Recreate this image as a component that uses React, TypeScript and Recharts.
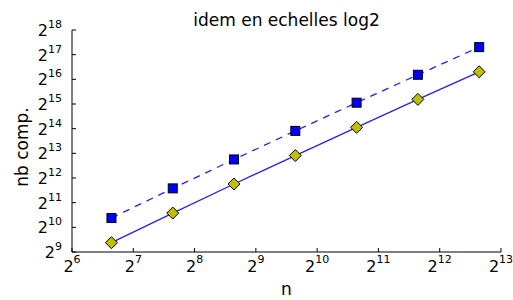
import { ComposedChart, Line, XAxis, YAxis } from "recharts";

const nValues = [100, 200, 400, 800, 1600, 3200, 6400];
const compDouble = [1330, 3060, 6900, 15400, 34000, 74500, 162000];
const compSimple = [665, 1530, 3460, 7700, 17000, 37300, 81000];
const xExponents = [6, 7, 8, 9, 10, 11, 12, 13];
const yExponents = [9, 10, 11, 12, 13, 14, 15, 16, 17, 18];

const xTicks = xExponents.map((e) => Math.pow(2, e));
const yTicks = yExponents.map((e) => Math.pow(2, e));

const data = nValues.map((n, i) => ({ n, a: compDouble[i], b: compSimple[i] }));

const FONT = "DejaVu Sans, sans-serif";
const LINE = "#2a20dc";

const expOf = (v: number) => Math.round(Math.log2(v));

const BottomTick = (props: any) => {
  const { x, y, payload } = props;
  return (
    <g>
      <line x1={x} y1={y} x2={x} y2={y - 4} stroke="#000" strokeWidth={1} />
      <text x={x} y={y + 20} textAnchor="middle" fontFamily={FONT} fontSize={16} fill="#000">
        <tspan>2</tspan>
        <tspan dy={-9} fontSize={11}>{expOf(payload.value)}</tspan>
      </text>
    </g>
  );
};

const TopTick = (props: any) => {
  const { x, y } = props;
  return <line x1={x} y1={y} x2={x} y2={y + 4} stroke="#000" strokeWidth={1} />;
};

const LeftTick = (props: any) => {
  const { x, y, payload } = props;
  return (
    <g>
      <line x1={x} y1={y} x2={x + 4} y2={y} stroke="#000" strokeWidth={1} />
      <text x={x - 10} y={y + 6} textAnchor="end" fontFamily={FONT} fontSize={16} fill="#000">
        <tspan>2</tspan>
        <tspan dy={-8} fontSize={11}>{expOf(payload.value)}</tspan>
      </text>
    </g>
  );
};

const RightTick = (props: any) => {
  const { x, y } = props;
  return <line x1={x} y1={y} x2={x - 4} y2={y} stroke="#000" strokeWidth={1} />;
};

const SquareDot = (props: any) => {
  const { cx, cy } = props;
  if (cx == null || cy == null) return null;
  return <rect x={cx - 4.5} y={cy - 4.5} width={9} height={9} fill="#0000ff" stroke="#000" strokeWidth={1} />;
};

const DiamondDot = (props: any) => {
  const { cx, cy } = props;
  if (cx == null || cy == null) return null;
  const r = 6;
  return (
    <polygon
      points={`${cx},${cy - r} ${cx + r},${cy} ${cx},${cy + r} ${cx - r},${cy}`}
      fill="#bfbf00"
      stroke="#000"
      strokeWidth={1}
    />
  );
};

const YLabel = (props: any) => {
  const { viewBox } = props;
  const cx = 28;
  const cy = viewBox.y + viewBox.height / 2 + 6;
  return (
    <text
      x={cx}
      y={cy}
      transform={`rotate(-90, ${cx}, ${cy})`}
      textAnchor="middle"
      fontFamily={FONT}
      fontSize={17}
      fill="#000"
    >
      nb comp.
    </text>
  );
};

const XLabel = (props: any) => {
  const { viewBox } = props;
  return (
    <text
      x={viewBox.x + viewBox.width / 2}
      y={295}
      textAnchor="middle"
      fontFamily={FONT}
      fontSize={17}
      fill="#000"
    >
      n
    </text>
  );
};

export default function App() {
  return (
    <div style={{ position: "absolute", left: 0, top: 0, width: 513, height: 300, background: "#fff" }}>
      <div
        style={{
          position: "absolute",
          left: 72,
          width: 429,
          top: 10,
          lineHeight: "20px",
          textAlign: "center",
          fontFamily: FONT,
          fontSize: 17,
          zIndex: 1,
        }}
      >
        idem en echelles log2
      </div>
      <ComposedChart width={513} height={300} data={data} margin={{ top: 30, right: 12, left: 0, bottom: 0 }}>
        <XAxis
          xAxisId="bottom"
          dataKey="n"
          type="number"
          scale="log"
          domain={[64, 8192]}
          ticks={xTicks}
          interval={0}
          height={48}
          tickSize={0}
          tickMargin={0}
          tickLine={false}
          tick={<BottomTick />}
          axisLine={{ stroke: "#000" }}
          allowDataOverflow
          label={{ content: <XLabel /> }}
        />
        <XAxis
          xAxisId="top"
          orientation="top"
          dataKey="n"
          type="number"
          scale="log"
          domain={[64, 8192]}
          ticks={xTicks}
          interval={0}
          height={0}
          tickSize={0}
          tickMargin={0}
          tickLine={false}
          tick={<TopTick />}
          axisLine={{ stroke: "#000" }}
          allowDataOverflow
        />
        <YAxis
          yAxisId="left"
          type="number"
          scale="log"
          domain={[512, 262144]}
          ticks={yTicks}
          interval={0}
          width={72}
          tickSize={0}
          tickMargin={0}
          tickLine={false}
          tick={<LeftTick />}
          axisLine={{ stroke: "#000" }}
          allowDataOverflow
          label={{ content: <YLabel /> }}
        />
        <YAxis
          yAxisId="right"
          orientation="right"
          type="number"
          scale="log"
          domain={[512, 262144]}
          ticks={yTicks}
          interval={0}
          width={0}
          tickSize={0}
          tickMargin={0}
          tickLine={false}
          tick={<RightTick />}
          axisLine={{ stroke: "#000" }}
          allowDataOverflow
        />
        <Line
          xAxisId="bottom"
          yAxisId="left"
          dataKey="a"
          stroke={LINE}
          strokeWidth={1.3}
          strokeDasharray="7 6"
          dot={<SquareDot />}
          activeDot={false}
          isAnimationActive={false}
        />
        <Line
          xAxisId="bottom"
          yAxisId="left"
          dataKey="b"
          stroke={LINE}
          strokeWidth={1.3}
          dot={<DiamondDot />}
          activeDot={false}
          isAnimationActive={false}
        />
      </ComposedChart>
    </div>
  );
}
